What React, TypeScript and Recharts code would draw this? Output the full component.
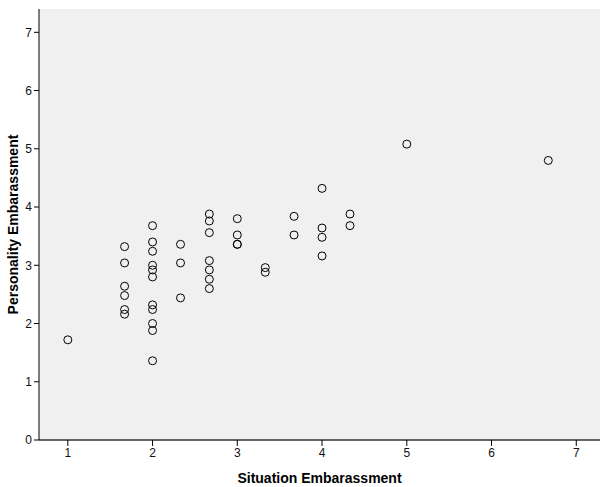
import { ScatterChart, Scatter, XAxis, YAxis, CartesianGrid } from 'recharts';

// situation embarrassment (x) and personality embarrassment (y)
const situation = [
    1,
    1.67, 1.67, 1.67, 1.67, 1.67, 1.67,
    2, 2, 2, 2, 2, 2, 2, 2, 2, 2, 2,
    2.33, 2.33, 2.33,
    2.67, 2.67, 2.67, 2.67, 2.67, 2.67, 2.67,
    3, 3, 3, 3,
    3.33, 3.33,
    3.67, 3.67,
    4, 4, 4, 4,
    4.33, 4.33,
    5,
    6.67,
];
const personality = [
    1.72,
    3.32, 3.04, 2.64, 2.48, 2.24, 2.16,
    3.68, 3.4, 3.24, 3.0, 2.92, 2.8, 2.32, 2.24, 2.0, 1.88, 1.36,
    3.36, 3.04, 2.44,
    3.88, 3.76, 3.56, 3.08, 2.92, 2.76, 2.6,
    3.8, 3.52, 3.36, 3.36,
    2.96, 2.88,
    3.84, 3.52,
    4.32, 3.64, 3.48, 3.16,
    3.88, 3.68,
    5.08,
    4.8,
];
const xTicks = [1, 2, 3, 4, 5, 6, 7];
const yTicks = [0, 1, 2, 3, 4, 5, 6, 7];

const data = situation.map((x, i) => ({ x, y: personality[i] }));

const font = 'Liberation Sans, Arial, sans-serif';
const tickStyle = { fontSize: 12, fill: '#111', fontFamily: font };

const Ring = (props: any) => (
    <circle cx={props.cx} cy={props.cy} r={4} fill="none" stroke="#000" strokeWidth={1} />
);

export default function App() {
    return (
        <div style={{ position: 'absolute', left: 0, top: 0, background: '#fff' }}>
            <ScatterChart width={600} height={487} margin={{ top: 9, right: 0, bottom: 0, left: 0 }}>
                <CartesianGrid horizontal={false} vertical={false} fill="#f0f0f0" />
                <XAxis
                    xAxisId="top"
                    orientation="top"
                    type="number"
                    dataKey="x"
                    domain={[0.66, 7.28]}
                    height={0}
                    tick={false}
                    tickLine={false}
                    axisLine={{ stroke: '#222', strokeWidth: 1.5 }}
                />
                <XAxis
                    type="number"
                    dataKey="x"
                    domain={[0.66, 7.28]}
                    ticks={xTicks}
                    height={47}
                    tickSize={6}
                    tick={tickStyle}
                    axisLine={{ stroke: '#333', strokeWidth: 1.5 }}
                    tickLine={{ stroke: '#000' }}
                    label={{
                        value: 'Situation Embarassment',
                        position: 'insideBottom',
                        offset: 4,
                        style: { fontSize: 14, fontWeight: 'bold', fill: '#000', fontFamily: font },
                    }}
                />
                <YAxis
                    type="number"
                    dataKey="y"
                    domain={[0, 7.4]}
                    ticks={yTicks}
                    width={39}
                    tickSize={5}
                    tick={tickStyle}
                    axisLine={{ stroke: '#000' }}
                    tickLine={{ stroke: '#000' }}
                    label={{
                        value: 'Personality Embarassment',
                        angle: -90,
                        position: 'insideLeft',
                        offset: 13,
                        style: { textAnchor: 'middle', fontSize: 14, fontWeight: 'bold', fill: '#000', fontFamily: font },
                    }}
                />
                <Scatter data={data} shape={Ring} isAnimationActive={false} />
            </ScatterChart>
        </div>
    );
}
